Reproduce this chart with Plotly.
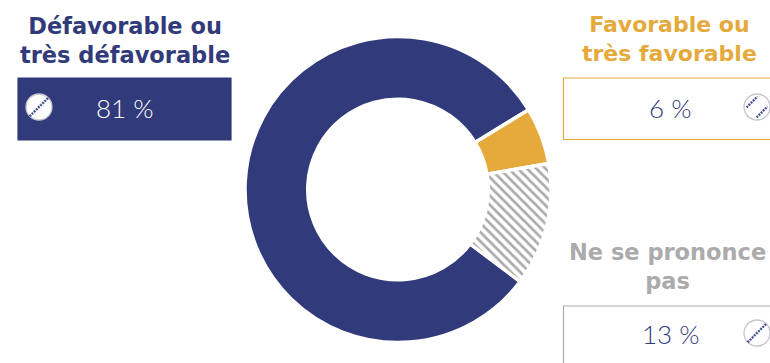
import plotly.graph_objects as go

W, H = 770, 363

categories = ["Défavorable ou<br>très défavorable", "Favorable ou<br>très favorable", "Ne se prononce<br>pas"]
values = [81, 6, 13]
colors = ["#313A7A", "#E5A93C", "#FFFFFF"]
title_colors = ["#313A7A", "#E5A93C", "#ABABAB"]
title_sizes = [22.5, 22, 22.5]
HATCH = "#ABABAB"


def px(x):
    return x / W


def py(y):
    return 1 - y / H


cx, cy, radius = 398, 189.5, 153

fig = go.Figure(
    go.Pie(
        labels=categories,
        values=values,
        hole=0.59,
        sort=False,
        direction="clockwise",
        rotation=127,
        textinfo="none",
        hoverinfo="label+percent",
        showlegend=False,
        marker=dict(
            colors=colors,
            line=dict(color="white", width=3.5),
            pattern=dict(
                shape=["", "", "\\"],
                fgcolor=HATCH,
                bgcolor="white",
                size=6.5,
                solidity=0.42,
                fillmode="replace",
            ),
        ),
        domain=dict(
            x=[px(cx - radius), px(cx + radius)],
            y=[py(cy + radius), py(cy - radius)],
        ),
    )
)

shapes = []
annotations = []


def box(x0, y0, x1, y1, fill, border):
    shapes.append(dict(type="rect", xref="paper", yref="paper",
                       x0=px(x0), x1=px(x1), y0=py(y0), y1=py(y1),
                       fillcolor=fill, line=dict(color=border, width=1.2)))


def pill(x, y, offsets=(0,), r=13, score="#4A5396"):
    # Round tablet icon with dotted score lines
    shapes.append(dict(type="circle", xref="paper", yref="paper",
                       x0=px(x - r), x1=px(x + r), y0=py(y + r), y1=py(y - r),
                       fillcolor="white", line=dict(color="#C4C4CC", width=1.3)))
    for d in offsets:
        span = r * 0.72 if d == 0 else r * 0.42
        shapes.append(dict(type="line", xref="paper", yref="paper",
                           x0=px(x + d - span), x1=px(x + d + span),
                           y0=py(y + d + span), y1=py(y + d - span),
                           line=dict(color=score, width=2.4, dash="2px,1px")))


def text(x, y, s, color, size, family="DejaVu Sans", bold=False, weight=None):
    font = dict(family=family, size=size, color=color)
    if weight:
        font["weight"] = weight
    annotations.append(dict(xref="paper", yref="paper", x=px(x), y=py(y), text=f"<b>{s}</b>" if bold else s,
                            showarrow=False, xanchor="center", yanchor="middle", align="center", font=font))


def title(x, y, i):
    text(x, y, categories[i], title_colors[i], title_sizes[i], bold=True)


box(18, 78, 231, 140, "#313A7A", "#313A7A")
box(563.5, 78, 790, 139.5, "white", "#E5A93C")
box(563.5, 306, 790, 380, "white", "#ABABAB")

pill(39, 107)
pill(757, 107, offsets=(-5, 5))
pill(757, 333)

title(125, 40, 0)
title(669, 39, 1)
title(667, 266, 2)

text(125, 108, f"{values[0]} %", "white", 26, family="Lato", weight=300)
text(670, 108, f"{values[1]} %", "#313A7A", 26, family="Lato", weight=300)
text(671, 334, f"{values[2]} %", "#313A7A", 26, family="Lato", weight=300)

fig.update_layout(
    width=W,
    height=H,
    margin=dict(l=0, r=0, t=0, b=0),
    paper_bgcolor="white",
    plot_bgcolor="white",
    shapes=shapes,
    annotations=annotations,
)

fig.write_html("out.html", config={"displayModeBar": False})
